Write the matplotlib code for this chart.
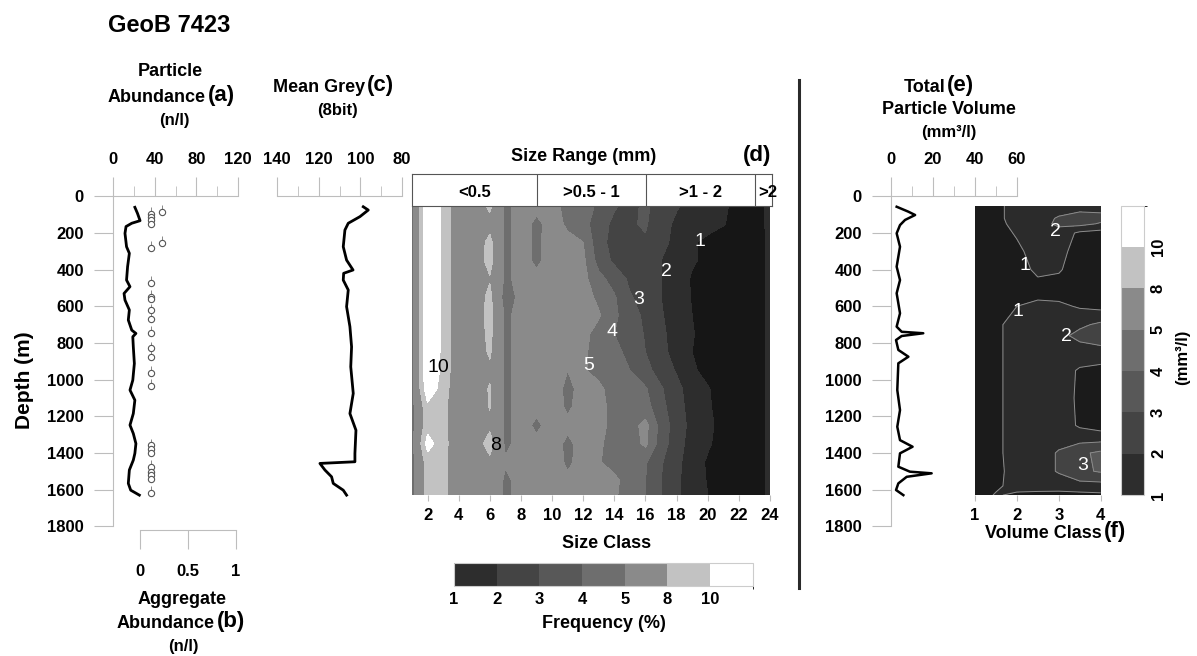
import matplotlib
matplotlib.use('Agg')
import matplotlib.pyplot as plt
import numpy as np
from matplotlib.colors import ListedColormap, BoundaryNorm
from matplotlib.cm import ScalarMappable
from matplotlib.lines import Line2D

# ---------------- data ----------------
# (a) particle abundance (n/l) vs depth (m)
pa_depth = [60, 93, 133, 147, 165, 202, 275, 311, 384, 457, 493, 530, 566, 620, 675, 730,
            748, 766, 821, 912, 1003, 1057, 1112, 1185, 1248, 1294, 1349, 1402, 1439, 1493,
            1566, 1603, 1630]
pa_value = [21, 23.5, 26, 18, 12.5, 11.5, 13, 15.7, 14, 13, 16.3, 10.6, 11.5, 15.7, 14.7, 18,
            22, 19, 19.5, 20.5, 19, 16.3, 21, 19.5, 16.3, 19.5, 22, 21, 19.5, 15.7,
            14.7, 17, 25.3]

# (b) aggregate abundance (n/l)
agg_depth = [84, 95, 115, 130, 150, 253, 280, 471, 548, 560, 620, 671, 744, 830, 875, 962,
             1033, 1357, 1380, 1402, 1475, 1502, 1520, 1544, 1617]
agg_value = [0.23, 0.115, 0.115, 0.115, 0.115, 0.23, 0.115, 0.115, 0.115, 0.115, 0.115, 0.115,
             0.115, 0.115, 0.115, 0.115, 0.115, 0.115, 0.115, 0.115, 0.115, 0.115, 0.115,
             0.115, 0.115]

# (c) mean grey (8bit)
mg_depth = [57, 75, 111, 147, 184, 275, 348, 402, 420, 457, 511, 602, 711, 821, 930, 1075,
            1185, 1276, 1403, 1448, 1457, 1493, 1530, 1566, 1603, 1630]
mg_value = [98.6, 96.2, 100.2, 105.8, 107.4, 108.2, 106.6, 103.5, 108, 108.2, 105.8, 106.6,
            105, 104.2, 104.6, 103.4, 105, 102.1, 102.6, 102.6, 119.4, 117, 113.8, 113,
            108.2, 106.6]

# (e) total particle volume (mm3/l)
tv_depth = [57, 84, 102, 129, 157, 202, 275, 384, 457, 529, 638, 711, 739, 747, 762, 784,
            838, 875, 911, 1057, 1166, 1257, 1330, 1366, 1402, 1475, 1502, 1511, 1530, 1566,
            1602, 1630]
tv_value = [2.7, 8.3, 11.5, 6.7, 4.3, 2.7, 4.3, 2.7, 4.3, 2.7, 4.3, 2.7, 5.1, 15.4, 5.1, 2.4,
            3.5, 8.3, 3.5, 3, 4.3, 3, 4.3, 10.3, 4.3, 3.5, 9, 19.4, 7.5, 3.5, 2.4, 5.9]

# (d) size-class frequency (%) grid: rows = depth, columns = size class 1..24
size_class = list(range(1, 25))
d_depth = [50, 150, 250, 350, 450, 550, 650, 750, 850, 950, 1050, 1150, 1250, 1350, 1450,
           1550, 1630]
freq = [
    [4.3, 12, 9.5, 6.3, 6.6, 8.5, 4.6, 5.6, 5.4, 5.3, 4.7, 4.5, 3.8, 3.1, 2.7, 3.2, 2.5, 2.1, 1.7, 1.5, 1.15, 0.7, 0.6, 1.2],
    [4.3, 12, 9.5, 6.3, 6.6, 7.2, 4.6, 5.6, 4.7, 5.5, 4.8, 4.4, 3.4, 2.8, 2.9, 3.1, 2.4, 1.8, 1.5, 1.3, 1.05, 0.7, 0.6, 1.2],
    [4.3, 12, 9.5, 6.3, 6.6, 8.6, 4.6, 5.6, 4.7, 5.6, 5.3, 5.0, 3.3, 2.7, 2.8, 2.9, 2.3, 1.7, 1.1, 0.8, 0.6, 0.5, 0.5, 1.2],
    [4.3, 12, 9.5, 6.3, 6.6, 8.8, 4.6, 5.6, 4.7, 5.6, 5.4, 5.2, 3.6, 2.8, 2.6, 2.4, 2.0, 1.6, 1.1, 0.8, 0.6, 0.5, 0.5, 1.2],
    [4.3, 12, 9.5, 6.3, 6.6, 7.8, 4.6, 5.6, 5.4, 5.6, 5.5, 5.3, 4.3, 3.6, 2.8, 2.3, 2.0, 1.5, 0.9, 0.7, 0.6, 0.5, 0.5, 1.2],
    [4.3, 12, 9.5, 6.3, 6.6, 8.6, 3.9, 5.6, 5.4, 5.6, 5.5, 5.4, 4.8, 4.1, 3.1, 2.6, 2.0, 1.4, 0.95, 0.7, 0.6, 0.5, 0.5, 1.2],
    [4.3, 12, 9.5, 6.3, 6.6, 8.7, 4.6, 5.6, 5.4, 5.6, 5.6, 5.5, 5.1, 4.2, 3.4, 2.8, 2.1, 1.5, 1.0, 0.7, 0.6, 0.5, 0.5, 1.2],
    [4.3, 12, 9.5, 6.3, 6.6, 8.6, 4.6, 5.6, 5.4, 5.6, 5.5, 5.3, 4.6, 4.0, 3.6, 2.9, 2.2, 1.6, 1.05, 0.7, 0.6, 0.5, 0.5, 1.2],
    [4.3, 12, 9.5, 6.3, 6.6, 8.3, 4.6, 5.6, 5.4, 5.6, 5.3, 5.2, 4.5, 4.2, 3.8, 3.0, 2.3, 1.6, 1.0, 0.7, 0.6, 0.5, 0.5, 1.2],
    [4.3, 12, 9.4, 6.3, 6.6, 7.5, 4.6, 5.6, 5.4, 5.6, 5.0, 5.1, 4.7, 4.3, 4.0, 3.3, 2.6, 1.9, 1.1, 0.8, 0.6, 0.5, 0.5, 1.2],
    [4.3, 11.5, 9.0, 6.3, 6.6, 8.2, 4.6, 5.6, 5.4, 5.6, 4.7, 5.4, 5.2, 4.6, 4.4, 4.1, 3.1, 2.3, 1.5, 1.05, 0.7, 0.5, 0.5, 1.2],
    [4.3, 9.5, 8.6, 6.3, 6.6, 8.1, 4.6, 5.6, 5.4, 5.6, 4.8, 5.5, 5.3, 4.7, 4.5, 4.4, 3.3, 2.4, 1.6, 1.1, 0.7, 0.5, 0.5, 1.2],
    [4.3, 9.3, 8.6, 6.3, 6.6, 7.5, 4.6, 5.6, 4.7, 5.6, 5.3, 5.6, 5.4, 4.6, 4.6, 5.3, 3.6, 2.5, 1.7, 1.2, 0.7, 0.5, 0.5, 1.2],
    [4.3, 10.8, 8.8, 6.3, 6.6, 9.0, 4.6, 5.6, 5.4, 5.6, 4.7, 5.5, 5.2, 4.5, 4.5, 5.2, 3.5, 2.4, 1.6, 1.1, 0.7, 0.5, 0.5, 1.2],
    [4.3, 9.0, 8.6, 6.3, 6.6, 7.4, 5.2, 5.6, 5.4, 5.6, 4.8, 5.4, 5.1, 4.5, 4.3, 4.1, 3.1, 2.3, 1.4, 0.9, 0.6, 0.5, 0.5, 1.2],
    [4.3, 9.0, 8.6, 6.3, 6.6, 7.0, 4.6, 5.6, 5.4, 5.6, 5.2, 5.3, 5.1, 5.3, 4.4, 4.0, 3.0, 2.2, 1.4, 0.95, 0.6, 0.5, 0.5, 1.2],
    [4.3, 9.0, 8.6, 6.3, 6.6, 7.0, 4.6, 5.6, 5.4, 5.6, 5.0, 5.2, 5.1, 5.2, 4.3, 4.0, 3.0, 2.2, 1.4, 1.0, 0.6, 0.5, 0.5, 1.2],
]
size_ranges = ['<0.5', '>0.5 - 1', '>1 - 2', '>2']
range_edges = [1, 9, 16, 23, 24.1]

# (f) volume per volume class (mm3/l)
vol_class = [1, 1.5, 2, 2.5, 3, 3.5, 4]
f_depth = [50, 120, 150, 200, 300, 400, 460, 520, 600, 700, 760, 850, 950, 1100, 1250, 1300,
           1400, 1500, 1580, 1630]
vol = [
    [0.6, 0.8, 1.3, 1.4, 1.5, 1.6, 1.6],
    [0.6, 0.8, 1.3, 1.6, 2.1, 2.4, 2.3],
    [0.5, 0.75, 1.25, 1.6, 2.2, 2.3, 1.9],
    [0.5, 0.6, 1.1, 1.5, 1.6, 0.8, 0.6],
    [0.5, 0.5, 0.8, 1.4, 1.3, 0.6, 0.5],
    [0.5, 0.5, 0.6, 1.2, 1.1, 0.5, 0.5],
    [0.5, 0.5, 0.5, 0.9, 0.8, 0.5, 0.5],
    [0.4, 0.5, 0.5, 0.6, 0.6, 0.5, 0.5],
    [0.4, 0.6, 1.0, 1.3, 1.2, 0.9, 0.7],
    [0.5, 0.8, 1.4, 1.5, 1.6, 1.8, 2.2],
    [0.5, 0.8, 1.4, 1.5, 1.7, 2.3, 2.6],
    [0.5, 0.8, 1.4, 1.5, 1.5, 1.5, 1.6],
    [0.5, 0.8, 1.4, 1.5, 1.4, 0.9, 0.7],
    [0.5, 0.8, 1.4, 1.5, 1.4, 0.85, 0.6],
    [0.5, 0.8, 1.4, 1.5, 1.4, 0.9, 0.7],
    [0.5, 0.8, 1.4, 1.5, 1.5, 1.3, 1.2],
    [0.5, 0.8, 1.4, 1.5, 2.1, 2.8, 3.2],
    [0.5, 0.8, 1.3, 1.5, 2.1, 2.8, 3.1],
    [0.6, 0.9, 1.2, 1.3, 1.4, 1.6, 1.6],
    [0.7, 1.05, 0.9, 0.8, 0.7, 0.7, 0.8],
]

levels = [0, 1, 2, 3, 4, 5, 8, 10, 100]
bar_bounds = [1, 2, 3, 4, 5, 8, 10, 11]
bar_ticks = [1, 2, 3, 4, 5, 8, 10]
greys = ['#2d2d2d', '#444444', '#585858', '#6e6e6e', '#8a8a8a', '#c2c2c2', '#ffffff']

# ---------------- figure ----------------
W, H = 1197, 656
plt.rcParams['font.family'] = ['Liberation Sans', 'DejaVu Sans']
plt.rcParams['font.weight'] = 'bold'
plt.rcParams['font.size'] = 12

AXC = '#bdbdbd'
fig = plt.figure(figsize=(W / 100, H / 100), dpi=100)


def px_axes(x0, y0, x1, y1):
    ax = fig.add_axes([x0 / W, 1 - y1 / H, (x1 - x0) / W, (y1 - y0) / H])
    ax.patch.set_alpha(0)
    return ax


def ftext(x, y, s, **kw):
    kw.setdefault('ha', 'center')
    kw.setdefault('va', 'center')
    fig.text(x / W, 1 - y / H, s, **kw)


def profile_axes(x0, x1, xlim, major, minor, yaxis=True):
    ax = px_axes(x0, 196.3, x1, 526.3)
    ax.set_xlim(*xlim)
    ax.set_ylim(1800, 0)
    for s in ['bottom', 'right']:
        ax.spines[s].set_visible(False)
    ax.spines['top'].set_color(AXC)
    ax.spines['left'].set_color(AXC)
    ax.spines['left'].set_visible(yaxis)
    ax.xaxis.tick_top()
    ax.set_xticks(major)
    ax.set_xticks(minor, minor=True)
    ax.tick_params(axis='x', which='major', length=14, color=AXC, pad=7, labelsize=12)
    ax.tick_params(axis='x', which='minor', length=7, color=AXC)
    if yaxis:
        ax.set_yticks(range(0, 1801, 200))
        ax.tick_params(axis='y', length=14, color=AXC, pad=7, labelsize=12)
    else:
        ax.set_yticks([])
    return ax


# (a)
ax_a = profile_axes(113, 238, (0, 120), [0, 40, 80, 120], [20, 60, 100])
ax_a.plot(pa_value, pa_depth, color='black', lw=2.0)

# (b)
ax_b = px_axes(140, 196.3, 236, 526.3)
ax_b.set_xlim(0, 1)
ax_b.set_ylim(1800, 0)
for s in ['top', 'right', 'left']:
    ax_b.spines[s].set_visible(False)
ax_b.spines['bottom'].set_color(AXC)
ax_b.spines['bottom'].set_position(('outward', 3))
ax_b.set_xticks([0, 0.5, 1])
ax_b.set_xticklabels(['0', '0.5', '1'])
ax_b.set_yticks([])
ax_b.tick_params(axis='x', length=14, color=AXC, pad=10, labelsize=12)
ax_b.errorbar(agg_value, agg_depth, yerr=[[35] * len(agg_depth), [0] * len(agg_depth)],
              fmt='o', ms=4.5, mfc='white', mec='#555555', mew=0.8,
              ecolor='#888888', elinewidth=0.7, capsize=0)

# (c)
ax_c = profile_axes(277, 402, (140, 80), [140, 120, 100, 80], [130, 110, 90], yaxis=False)
ax_c.plot(mg_value, mg_depth, color='black', lw=2.0)

# (d) contour
ax_d = px_axes(412, 205.5, 770, 495.1)
ax_d.contourf(size_class, d_depth, freq, levels=levels,
              colors=['#161616'] + greys)
ax_d.set_xlim(1, 24)
ax_d.set_ylim(1630, 50)
ax_d.set_xticks(range(2, 25, 2))
ax_d.set_yticks([])
ax_d.tick_params(axis='x', length=4, color=AXC, pad=5, labelsize=12)
for s in ax_d.spines.values():
    s.set_visible(False)
for txt, cx, dy, col in [('1', 19.5, 248, 'white'), ('2', 17.36, 411, 'white'),
                         ('3', 15.54, 562, 'white'), ('4', 13.83, 735, 'white'),
                         ('5', 12.33, 924, 'white'), ('10', 2.69, 935, 'black'),
                         ('8', 6.4, 1357, 'black')]:
    ax_d.text(cx, dy, txt, color=col, fontsize=14, fontweight='normal',
              ha='center', va='center')

# size range header
ax_h = px_axes(412, 174, 771.7, 205.5)
ax_h.set_xlim(range_edges[0], range_edges[-1])
ax_h.set_ylim(0, 1)
ax_h.set_xticks([])
ax_h.set_yticks([])
for s in ax_h.spines.values():
    s.set_color('#555555')
    s.set_linewidth(0.8)
for e in range_edges[1:-1]:
    ax_h.axvline(e, color='#555555', lw=0.8)
for i, lab in enumerate(size_ranges):
    cx = (range_edges[i] + range_edges[i + 1]) / 2
    ax_h.text(cx + (0.3 if i == 3 else 0), 0.4, lab, ha='center', va='center', fontsize=12,
              clip_on=False)

# frequency colorbar
cmap = ListedColormap(greys)
norm = BoundaryNorm(bar_bounds, len(greys))
cax_d = px_axes(454, 562.7, 752.7, 586)
cb_d = fig.colorbar(ScalarMappable(norm=norm, cmap=cmap), cax=cax_d, orientation='horizontal',
                    spacing='uniform', ticks=bar_ticks)
cb_d.outline.set_edgecolor('#cccccc')
cb_d.ax.tick_params(length=0, pad=4, labelsize=12)

# (e)
ax_e = profile_axes(891, 1016.7, (0, 60), [0, 20, 40, 60], [10, 30, 50])
ax_e.plot(tv_value, tv_depth, color='black', lw=1.8)

# (f) contour
ax_f = px_axes(975, 205.5, 1100.7, 495.1)
ax_f.contourf(vol_class, f_depth, vol, levels=levels,
              colors=['#1b1b1b', '#2b2b2b', '#434343', '#585858', '#6e6e6e', '#8a8a8a',
                      '#c2c2c2', '#ffffff'])
ax_f.contour(vol_class, f_depth, vol, levels=[1, 2, 3], colors='#8c8c8c', linewidths=0.7)
ax_f.set_xlim(1, 4)
ax_f.set_ylim(1630, 50)
ax_f.set_xticks([1, 2, 3, 4])
ax_f.set_yticks([])
ax_f.tick_params(axis='x', length=4, color=AXC, pad=5, labelsize=12)
for s in ax_f.spines.values():
    s.set_visible(False)
for txt, cx, dy in [('2', 2.93, 193), ('1', 2.19, 375), ('1', 2.03, 629),
                    ('2', 3.19, 766), ('3', 3.57, 1466)]:
    ax_f.text(cx, dy, txt, color='white', fontsize=14, fontweight='normal',
              ha='center', va='center')

cax_f = px_axes(1120.7, 205.7, 1144, 495)
cb_f = fig.colorbar(ScalarMappable(norm=norm, cmap=cmap), cax=cax_f, orientation='vertical',
                    spacing='uniform', ticks=bar_ticks)
cb_f.outline.set_edgecolor('#cccccc')
cb_f.ax.tick_params(length=0, pad=5, labelsize=12)
for t in cb_f.ax.get_yticklabels():
    t.set_rotation(90)
    t.set_va('center')

# divider
fig.add_artist(Line2D([799 / W, 799 / W], [1 - 80 / H, 1 - 588 / H], color='#2a2a2a', lw=2.2))

# ---------------- texts ----------------
ftext(108, 25, 'GeoB 7423', fontsize=17, ha='left')
ftext(170, 72, 'Particle', fontsize=13)
ftext(206, 97, 'Abundance', fontsize=13, ha='right')
ftext(208, 95, '(a)', fontsize=16, ha='left')
ftext(174, 121, '(n/l)', fontsize=12)
ftext(365, 87, 'Mean Grey', fontsize=13, ha='right')
ftext(367, 85, '(c)', fontsize=16, ha='left')
ftext(337, 110, '(8bit)', fontsize=12)
ftext(24, 380, 'Depth (m)', fontsize=15, rotation=90)
ftext(182, 599, 'Aggregate', fontsize=13)
ftext(215, 623, 'Abundance', fontsize=13, ha='right')
ftext(217, 621, '(b)', fontsize=16, ha='left')
ftext(183, 647, '(n/l)', fontsize=12)
ftext(584, 157, 'Size Range (mm)', fontsize=13)
ftext(757, 155, '(d)', fontsize=16)
ftext(607, 543, 'Size Class', fontsize=13)
ftext(604, 623, 'Frequency (%)', fontsize=13)
ftext(945, 87, 'Total', fontsize=13, ha='right')
ftext(947, 85, '(e)', fontsize=16, ha='left')
ftext(949, 110, 'Particle Volume', fontsize=13)
ftext(949, 132, '(mm³/l)', fontsize=12)
ftext(1102, 533, 'Volume Class', fontsize=13, ha='right')
ftext(1104, 531, '(f)', fontsize=16, ha='left')
ftext(1183, 357, '(mm³/l)', fontsize=12, rotation=90)

fig.savefig('out.png', dpi=100)
